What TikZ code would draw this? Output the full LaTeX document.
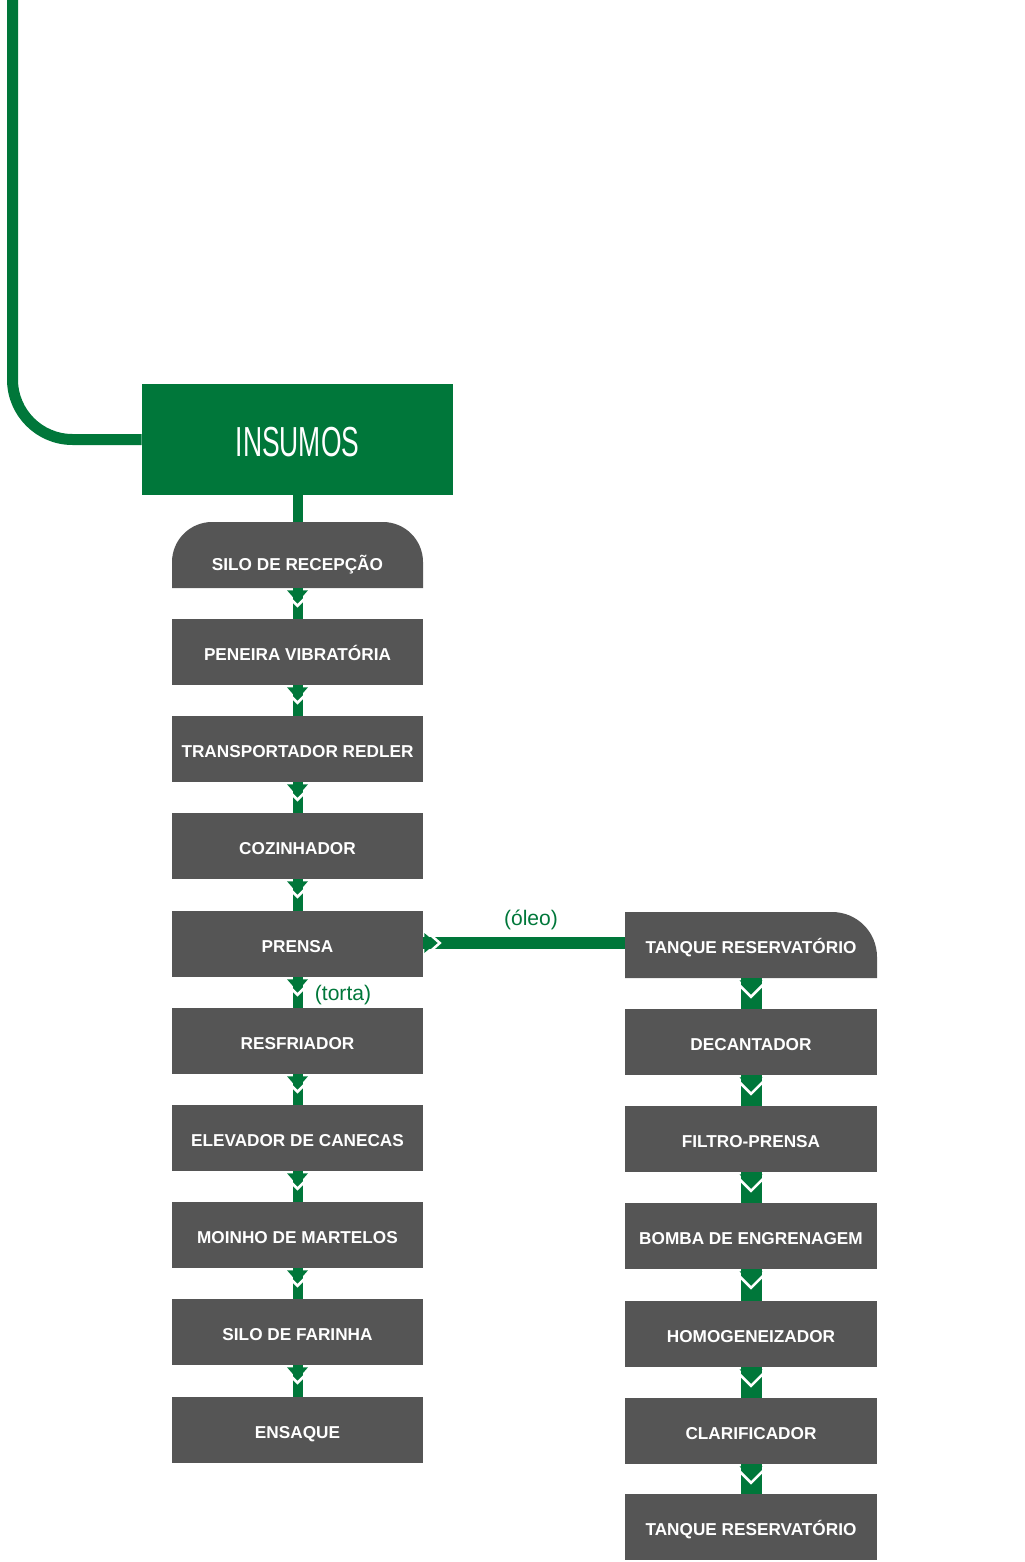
\documentclass[tikz,border=0pt]{standalone}
\usepackage{fontspec}
\setmainfont{Liberation Sans}
\newfontfamily\condfont[FakeStretch=0.63]{Liberation Sans}
\usetikzlibrary{calc}
\definecolor{insgreen}{HTML}{00773A}
\definecolor{boxgray}{HTML}{555555}
\tikzset{
  stepbox/.style={rectangle, fill=boxgray, text=white, inner sep=0pt,
    minimum width=188.25pt, minimum height=49.5pt, text height=13pt, text depth=0pt,
    font=\bfseries\fontsize{12.9}{15}\selectfont},
  ghostbox/.style={stepbox, fill=none},
  greenlbl/.style={text=insgreen, inner sep=0pt, font=\fontsize{15.8}{18}\selectfont}
}
% vertical connector: #1 from node, #2 to node, #3 half head width, #4 half stem width, #5 head height
\newcommand{\vconn}[5]{%
  \fill[insgreen] ($(#1.south)+(-#4,0)$) rectangle ($(#2.north)+(#4,0)$);
  \draw[white, line width=1.9pt] ($(#1.south)+(-#3-2,5)$) -- ($(#1.south)+(0,5.5+#5)$) -- ($(#1.south)+(#3+2,5)$);
  \fill[insgreen] ($(#1.south)+(-#3,2)$) -- ($(#1.south)+(#3,2)$) -- ($(#1.south)+(0,2+#5)$) -- cycle;
}
\begin{document}
\begin{tikzpicture}[x=0.75pt,y=-0.75pt]
\useasboundingbox (0,0) rectangle (1024,1562);

% INSUMOS
\node[fill=insgreen, text=white, inner sep=0pt, minimum width=233.25pt, minimum height=83.25pt,
  text height=25pt, text depth=0pt,
  font=\condfont\fontsize{31.5}{34}\selectfont] (insumos) at (297.5,439.5) {INSUMOS};
\coordinate (topstart) at (12.5,-8);
\draw[insgreen, line width=8.25pt, rounded corners=45pt] (topstart) -- (12.5,439.5) -- (insumos.west);

% SILO DE RECEPCAO (rounded top)
\fill[boxgray] (172,588) -- (172,562) .. controls (172,540) and (190,522) .. (212,522)
  -- (383,522) .. controls (405,522) and (423,540) .. (423,562) -- (423,588) -- cycle;
\node[ghostbox, text height=22.8pt] (silo) at (297.5,555) {SILO DE RECEPÇÃO};

% left column
\node[stepbox] (peneira) at (297.5,652) {PENEIRA VIBRATÓRIA};
\node[stepbox] (transp) at (297.5,749) {TRANSPORTADOR REDLER};
\node[stepbox] (cozinh) at (297.5,846) {COZINHADOR};
\node[stepbox] (prensa) at (297.5,944) {PRENSA};
\node[stepbox] (resfr) at (297.5,1041) {RESFRIADOR};
\node[stepbox] (elev) at (297.5,1138) {ELEVADOR DE CANECAS};
\node[stepbox] (moinho) at (297.5,1235) {MOINHO DE MARTELOS};
\node[stepbox] (silofar) at (297.5,1332) {SILO DE FARINHA};
\node[stepbox] (ensaque) at (297.5,1430) {ENSAQUE};

% right column: TANQUE (rounded top-right)
\fill[boxgray] (625,978) -- (625,912) -- (832,912) .. controls (857,912) and (877,932) .. (877,957)
  -- (877,978) -- cycle;
\node[ghostbox, minimum width=189pt] (tanque1) at (751,945) {TANQUE RESERVATÓRIO};
\node[stepbox, minimum width=189pt] (decant) at (751,1042) {DECANTADOR};
\node[stepbox, minimum width=189pt] (filtro) at (751,1139) {FILTRO-PRENSA};
\node[stepbox, minimum width=189pt] (bomba) at (751,1236) {BOMBA DE ENGRENAGEM};
\node[stepbox, minimum width=189pt] (homog) at (751,1334) {HOMOGENEIZADOR};
\node[stepbox, minimum width=189pt] (clarif) at (751,1431) {CLARIFICADOR};
\node[stepbox, minimum width=189pt] (tanque2) at (751,1527) {TANQUE RESERVATÓRIO};

% INSUMOS -> silo
\fill[insgreen] ($(insumos.south)+(-5,0)$) rectangle ($(silo.north)+(5,0)$);

% left connectors
\vconn{silo}{peneira}{10.5}{5}{12}
\vconn{peneira}{transp}{10.5}{5}{12}
\vconn{transp}{cozinh}{10.5}{5}{12}
\vconn{cozinh}{prensa}{10.5}{5}{12}
\vconn{prensa}{resfr}{10.5}{5}{12}
\vconn{resfr}{elev}{10.5}{5}{12}
\vconn{elev}{moinho}{10.5}{5}{12}
\vconn{moinho}{silofar}{10.5}{5}{12}
\vconn{silofar}{ensaque}{10.5}{5}{12}

% right connectors
\vconn{tanque1}{decant}{11.5}{10.5}{13}
\vconn{decant}{filtro}{11.5}{10.5}{13}
\vconn{filtro}{bomba}{11.5}{10.5}{13}
\vconn{bomba}{homog}{11.5}{10.5}{13}
\vconn{homog}{clarif}{11.5}{10.5}{13}
\vconn{clarif}{tanque2}{11.5}{10.5}{13}

% horizontal oil connector
\fill[insgreen] ($(prensa.east)+(0,-7)$) rectangle ($(tanque1.west)+(0,4)$);
\draw[white, line width=1.9pt] ($(prensa.east)+(4,-12)$) -- ($(prensa.east)+(16.5,-1)$) -- ($(prensa.east)+(4,10)$);
\fill[insgreen] ($(prensa.east)+(1,-11)$) -- ($(prensa.east)+(13,-1)$) -- ($(prensa.east)+(1,9)$) -- cycle;

% labels
\node[greenlbl] (oleo) at (531,920) {(óleo)};
\node[greenlbl] (torta) at (343,995) {(torta)};
\end{tikzpicture}
\end{document}
